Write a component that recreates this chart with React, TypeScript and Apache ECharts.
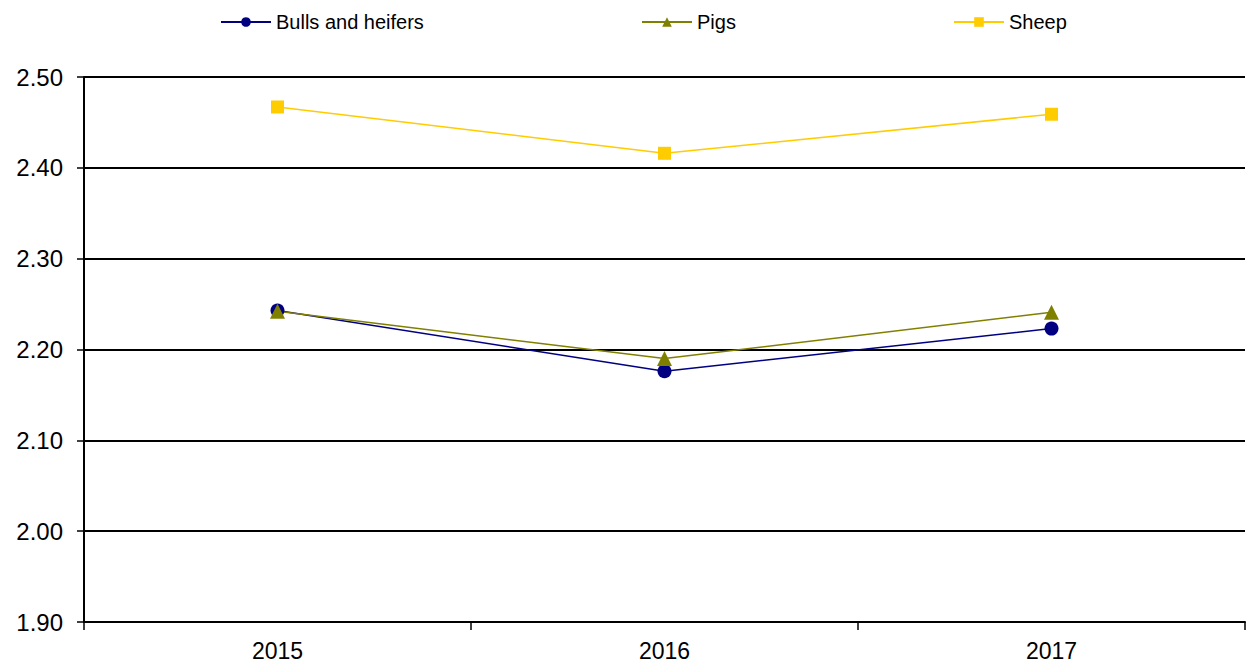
import React, { useEffect, useRef } from "react";
import * as echarts from "echarts";

const years = ["2015", "2016", "2017"];
const bulls = [2.243, 2.176, 2.223];
const pigs = [2.242, 2.19, 2.241];
const sheep = [2.467, 2.416, 2.459];

export default function App() {
  const ref = useRef<HTMLDivElement>(null);
  useEffect(() => {
    if (!ref.current) return;
    const chart = echarts.init(ref.current, null, { renderer: "svg" });
    const font = "Liberation Sans, Arial, sans-serif";
    const legendBase = {
      top: 7,
      itemWidth: 50,
      itemHeight: 12,
      itemGap: 4,
      textStyle: { fontFamily: font, fontSize: 20, color: "#000", padding: [0, 0, 0, 0] },
    };
    chart.setOption({
      animation: false,
      backgroundColor: "#fff",
      legend: [
        { ...legendBase, left: 215, data: ["Bulls and heifers"] },
        { ...legendBase, left: 636, data: ["Pigs"] },
        { ...legendBase, left: 948, data: ["Sheep"] },
      ],
      grid: { left: 84, right: 2, top: 77, bottom: 44, containLabel: false },
      xAxis: {
        type: "category",
        data: years,
        boundaryGap: true,
        axisLine: { lineStyle: { color: "#000", width: 2 } },
        axisTick: { show: true, length: 8, inside: false, lineStyle: { color: "#000", width: 1.5 } },
        axisLabel: { fontFamily: font, fontSize: 23, color: "#000", margin: 17 },
      },
      yAxis: {
        type: "value",
        min: 1.9,
        max: 2.5,
        interval: 0.1,
        axisLine: { show: true, lineStyle: { color: "#000", width: 2 } },
        axisTick: { show: true, length: 7, lineStyle: { color: "#000", width: 1.5 } },
        axisLabel: {
          fontFamily: font,
          fontSize: 24,
          color: "#000",
          margin: 21,
          formatter: (v: number) => v.toFixed(2),
        },
        splitLine: { show: true, lineStyle: { color: "#000", width: 2 } },
      },
      series: [
        {
          name: "Bulls and heifers",
          type: "line",
          data: bulls,
          symbol: "circle",
          symbolSize: 14,
          color: "#000080",
          lineStyle: { width: 1.5, color: "#000080" },
          itemStyle: { color: "#000080" },
        },
        {
          name: "Pigs",
          type: "line",
          data: pigs,
          symbol: "triangle",
          symbolSize: 15,
          color: "#808000",
          lineStyle: { width: 1.5, color: "#808000" },
          itemStyle: { color: "#808000" },
        },
        {
          name: "Sheep",
          type: "line",
          data: sheep,
          symbol: "rect",
          symbolSize: 13,
          color: "#FFCC00",
          lineStyle: { width: 1.5, color: "#FFCC00" },
          itemStyle: { color: "#FFCC00" },
        },
      ],
    });
    return () => chart.dispose();
  }, []);
  return (
    <div
      ref={ref}
      style={{ position: "fixed", left: 0, top: 0, width: 1247, height: 666, background: "#fff" }}
    />
  );
}
